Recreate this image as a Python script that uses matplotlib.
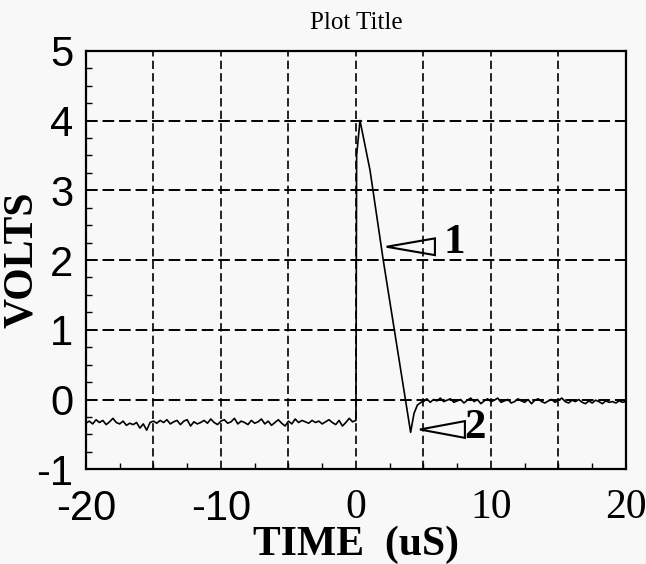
import numpy as np
import matplotlib
matplotlib.use('Agg')
import matplotlib.pyplot as plt
from matplotlib.patches import Polygon
from matplotlib.ticker import MultipleLocator

plt.rcParams['axes.unicode_minus'] = False

# baseline before the pulse, sampled every 0.25 us from -20 us
pre_start, pre_step = -20.0, 0.25
pre_volts = [-0.34, -0.31, -0.35, -0.29, -0.33, -0.30, -0.36, -0.32, -0.27, -0.33,
             -0.35, -0.31, -0.37, -0.34, -0.36, -0.33, -0.41, -0.35, -0.44, -0.33,
             -0.31, -0.34, -0.30, -0.33, -0.29, -0.35, -0.32, -0.30, -0.36, -0.31,
             -0.29, -0.38, -0.32, -0.35, -0.33, -0.30, -0.34, -0.28, -0.33, -0.36,
             -0.31, -0.29, -0.34, -0.32, -0.27, -0.35, -0.31, -0.33, -0.36, -0.30,
             -0.34, -0.32, -0.28, -0.35, -0.31, -0.37, -0.33, -0.29, -0.34, -0.38,
             -0.31, -0.35, -0.28, -0.33, -0.30, -0.32, -0.34, -0.30, -0.33, -0.31,
             -0.35, -0.32, -0.29, -0.33, -0.36, -0.30, -0.38, -0.33, -0.27, -0.32]

# the pulse itself
pulse_time = [0.0, 0.05, 0.3, 1.04, 2.02, 4.05, 4.3, 4.55, 4.9]
pulse_volts = [-0.30, 3.5, 4.0, 3.29, 2.0, -0.47, -0.2, -0.08, -0.03]

# baseline after the pulse, every 0.25 us from 5 us
post_start, post_step = 5.0, 0.25
post_volts = [-0.03, 0.01, -0.04, 0.00, -0.02, 0.02, -0.03, -0.01, 0.01, -0.04,
              -0.02, 0.00, -0.05, -0.01, 0.02, -0.03, 0.00, -0.06, -0.02, 0.01,
              -0.03, -0.01, 0.02, -0.04, -0.02, 0.00, -0.05, -0.03, 0.01, -0.02,
              -0.04, 0.00, -0.06, -0.01, 0.01, -0.03, -0.05, -0.02, 0.00, -0.04,
              -0.01, 0.02, -0.03, -0.05, -0.01, -0.03, 0.00, -0.04, -0.06, -0.02,
              -0.05, -0.01, -0.03, -0.06, -0.02, -0.04, -0.03, -0.05, -0.02, -0.04, -0.03]

x_ticks = [-20, -10, 0, 10, 20]
x_tick_labels = ['-20', '-10', '0', '10', '20']
y_ticks = [-1, 0, 1, 2, 3, 4, 5]

# annotation markers: triangle tip, base x, base half-height, label position
marker_labels = ['1', '2']
marker_tips = [(2.27, 2.19), (4.74, -0.43)]
marker_base_x = [5.85, 8.07]
marker_half = [0.12, 0.12]
marker_text_pos = [(7.3, 2.24), (8.8, -0.41)]

pre_time = pre_start + pre_step * np.arange(len(pre_volts))
post_time = post_start + post_step * np.arange(len(post_volts))
time = np.concatenate([pre_time, pulse_time, post_time])
volts = np.concatenate([pre_volts, pulse_volts, post_volts])

bg = '#f8f8f8'
fig = plt.figure(figsize=(6.46, 5.64), dpi=100, facecolor=bg)
ax = fig.add_axes([0.133, 0.168, 0.836, 0.742], facecolor=bg)

ax.plot(time, volts, c='k', lw=1.2)

# triangles pointing at the trace
for lab, tip, bx, h, tp in zip(marker_labels, marker_tips, marker_base_x, marker_half, marker_text_pos):
    tri = Polygon([tip, (bx, tip[1] + h), (bx, tip[1] - h)], closed=True,
                  fill=False, edgecolor='k', lw=1.5)
    ax.add_patch(tri)
    ax.text(tp[0], tp[1], lab, family='Liberation Serif', fontweight='bold',
            fontsize=31, ha='center', va='center')

ax.set_xlim(-20, 20)
ax.set_ylim(-1, 5)

# dashed grid every 5 us and every volt
for gx in range(-15, 20, 5):
    ax.axvline(gx, c='k', lw=1.2, ls=(0, (5, 2.5)), zorder=0.5)
for gy in range(0, 5):
    ax.axhline(gy, c='k', lw=1.4, ls=(0, (6, 2.5)), zorder=0.5)

ax.set_xticks(x_ticks)
ax.set_xticklabels(x_tick_labels)
ax.set_yticks(y_ticks)
ax.xaxis.set_minor_locator(MultipleLocator(2.5))
ax.yaxis.set_minor_locator(MultipleLocator(0.25))
ax.tick_params(which='major', direction='in', length=0, labelsize=30)
ax.tick_params(which='minor', direction='in', length=4, width=1.0,
               top=False, right=False)
ax.tick_params(axis='x', pad=14)
ax.tick_params(axis='y', pad=9)
for t in ax.get_yticklabels():
    t.set_fontfamily('Liberation Sans')
for t, s in zip(ax.get_xticklabels(), x_tick_labels):
    if s.startswith('-'):
        t.set_fontfamily('Liberation Sans')
    else:
        t.set_fontfamily('Liberation Serif')

for sp in ax.spines.values():
    sp.set_linewidth(1.6)

ax.set_xlabel('TIME  (uS)', family='Liberation Serif', fontweight='bold', fontsize=30)
ax.xaxis.set_label_coords(0.5, -0.135)
ax.xaxis.label.set_va('top')
ax.set_ylabel('VOLTS', family='Liberation Serif', fontweight='bold', fontsize=30)
ax.yaxis.set_label_coords(-0.083, 0.5)

ax.set_title('Plot Title', family='Liberation Serif', fontsize=18, pad=16)

fig.savefig('out.png', dpi=100, facecolor=bg)
